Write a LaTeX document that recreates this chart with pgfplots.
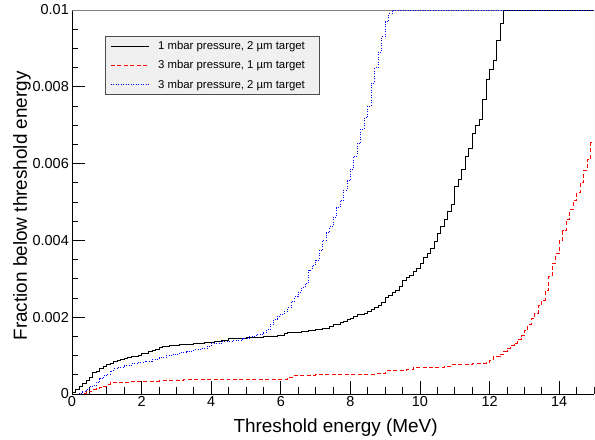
\documentclass[border=0pt]{standalone}
\usepackage{fontspec}
\setmainfont{Liberation Sans}
\usepackage{pgfplots}
\pgfplotsset{compat=1.18}

% step histograms, bins of ~0.1 MeV (value = height from that energy on)
\pgfplotstableread{
E f
0.0 0.00005
0.1 0.00012
0.2 0.00020
0.3 0.00028
0.4 0.00036
0.5 0.00044
0.6 0.00055
0.7 0.00060
0.8 0.00066
0.9 0.00071
1.0 0.00076
1.1 0.00080
1.2 0.00085
1.3 0.00088
1.4 0.00090
1.5 0.00093
1.6 0.00095
1.7 0.00097
1.8 0.00099
1.9 0.00101
2.0 0.00105
2.1 0.00107
2.2 0.00110
2.3 0.00113
2.4 0.00117
2.5 0.00121
2.6 0.00125
2.8 0.00127
3.1 0.00129
3.5 0.00133
3.8 0.00135
4.1 0.00138
4.3 0.00140
4.5 0.00144
4.6 0.00146
5.0 0.00148
5.5 0.00150
5.9 0.00153
6.1 0.00159
6.2 0.00161
6.6 0.00163
6.8 0.00166
7.0 0.00169
7.2 0.00172
7.4 0.00176
7.5 0.00180
7.7 0.00186
7.8 0.00190
7.9 0.00194
8.0 0.00198
8.1 0.00203
8.2 0.00206
8.4 0.00210
8.5 0.00216
8.6 0.00221
8.7 0.00226
8.8 0.00232
8.9 0.00238
9.0 0.00252
9.1 0.00258
9.2 0.00264
9.3 0.00271
9.4 0.00280
9.5 0.00295
9.6 0.00303
9.7 0.00310
9.8 0.00319
9.9 0.00328
10.0 0.00340
10.1 0.00355
10.2 0.00366
10.3 0.00380
10.4 0.00397
10.5 0.00417
10.6 0.00436
10.7 0.00455
10.8 0.00475
10.9 0.00495
11.0 0.00540
11.1 0.00560
11.2 0.00585
11.3 0.00620
11.4 0.00640
11.5 0.00679
11.6 0.00700
11.7 0.00714
11.8 0.00766
11.9 0.00818
12.0 0.00845
12.1 0.00870
12.2 0.00922
12.3 0.00965
12.4 0.01000
15.0 0.01000
}\onembartwo

\pgfplotstableread{
E f
0.0 0.00000
0.3 0.00002
0.4 0.00006
0.5 0.00008
0.6 0.00012
0.7 0.00015
0.8 0.00018
0.9 0.00021
1.0 0.00025
1.1 0.00029
1.3 0.00031
1.7 0.00033
2.0 0.00034
2.5 0.00035
3.2 0.00037
4.5 0.00038
5.6 0.00039
6.2 0.00044
6.4 0.00049
7.0 0.00051
8.7 0.00053
9.0 0.00061
9.6 0.00063
9.8 0.00068
10.4 0.00070
10.7 0.00073
10.9 0.00077
11.5 0.00080
11.9 0.00083
12.0 0.00088
12.1 0.00097
12.3 0.00103
12.4 0.00112
12.5 0.00119
12.6 0.00126
12.7 0.00133
12.8 0.00142
12.9 0.00152
13.0 0.00165
13.1 0.00180
13.2 0.00196
13.3 0.00210
13.4 0.00230
13.5 0.00245
13.6 0.00270
13.7 0.00305
13.8 0.00340
13.9 0.00365
14.0 0.00401
14.1 0.00425
14.2 0.00455
14.3 0.00480
14.4 0.00505
14.5 0.00525
14.6 0.00550
14.7 0.00583
14.8 0.00610
14.9 0.00654
15.0 0.00654
}\threembarone

\pgfplotstableread{
E f
0.0 0.00000
0.2 0.00002
0.3 0.00006
0.4 0.00012
0.5 0.00019
0.6 0.00022
0.7 0.00030
0.8 0.00040
0.9 0.00048
1.0 0.00052
1.1 0.00060
1.2 0.00066
1.3 0.00070
1.5 0.00074
1.7 0.00079
1.9 0.00083
2.1 0.00086
2.3 0.00090
2.5 0.00094
2.7 0.00100
2.9 0.00103
3.1 0.00108
3.3 0.00112
3.5 0.00115
3.7 0.00118
3.9 0.00125
4.0 0.00132
4.3 0.00137
4.6 0.00140
4.9 0.00144
5.1 0.00150
5.3 0.00156
5.5 0.00160
5.6 0.00167
5.7 0.00180
5.8 0.00195
5.9 0.00202
6.0 0.00208
6.1 0.00216
6.2 0.00225
6.3 0.00240
6.4 0.00253
6.5 0.00265
6.6 0.00277
6.7 0.00288
6.8 0.00323
6.9 0.00335
7.0 0.00349
7.1 0.00375
7.2 0.00401
7.3 0.00420
7.4 0.00436
7.5 0.00460
7.6 0.00485
7.7 0.00505
7.8 0.00530
7.9 0.00555
8.0 0.00585
8.1 0.00620
8.2 0.00653
8.3 0.00690
8.4 0.00720
8.5 0.00750
8.6 0.00810
8.7 0.00850
8.8 0.00890
8.9 0.00930
9.0 0.00970
9.1 0.00990
9.2 0.01000
15.0 0.01000
}\threembartwo

\begin{document}
\begin{tikzpicture}
\begin{axis}[
  scale only axis,
  width=522bp, height=384bp,
  xmin=0, xmax=15,
  ymin=0, ymax=0.01,
  scaled y ticks=false,
  axis x line*=bottom,
  axis y line*=left,
  axis line style={-, line width=0.8bp},
  tick align=inside,
  xtick={0,2,4,6,8,10,12,14},
  xticklabels={0,2,4,6,8,10,12,14},
  minor xtick={0.5,1,...,15},
  ytick={0,0.002,0.004,0.006,0.008,0.01},
  yticklabels={0,0.002,0.004,0.006,0.008,0.01},
  minor ytick={0.0005,0.001,...,0.0095},
  major tick length=13bp,
  minor tick length=6.5bp,
  every tick/.style={black, line width=0.7bp},
  ticklabel style={font=\fontsize{14.5}{16}\selectfont},
  yticklabel style={inner sep=1bp, xshift=-2bp},
  xticklabel style={inner sep=1bp, yshift=-1bp},
  xlabel={Threshold energy (MeV)},
  ylabel={Fraction below threshold energy},
  label style={font=\fontsize{19}{22}\selectfont},
  xlabel style={at={(axis description cs:0.505,-0.088)}, anchor=center},
  ylabel style={at={(axis description cs:-0.096,0.49)}, anchor=center},
  legend style={
    at={(0.063,0.932)}, anchor=north west,
    draw=black!70, line width=0.8bp, fill=black!6,
    font=\fontsize{11.4}{13}\selectfont,
    inner xsep=5bp, inner ysep=3.5bp,
    row sep=6.5bp,
    nodes={inner sep=1.5bp},
  },
  legend cell align=left,
  legend image code/.code={\draw[#1] (0bp,0bp) -- (38bp,0bp); \path[draw=none] (46bp,0bp) circle (0pt);},
]
\coordinate (o) at (rel axis cs:0,0);
\draw[black!50, line width=0.8bp] (rel axis cs:0,1) -- (rel axis cs:1,1);
\draw[black!15, line width=0.8bp] (rel axis cs:1,1) -- (rel axis cs:1,0);
\addplot[const plot, black, line width=0.8bp] table[x=E, y=f] {\onembartwo};
\addplot[const plot, red, line width=0.8bp, dash pattern=on 4bp off 2.5bp] table[x=E, y=f] {\threembarone};
\addplot[const plot, blue, line width=0.8bp, dash pattern=on 0.9bp off 1.6bp] table[x=E, y=f] {\threembartwo};
\legend{{1 mbar pressure, 2 µm target\hspace*{8bp}}, {3 mbar pressure, 1 µm target\hspace*{8bp}}, {3 mbar pressure, 2 µm target\hspace*{8bp}}}
\end{axis}
\path (o) ++(-72bp,-45bp) rectangle ++(595bp,439bp);
\end{tikzpicture}
\end{document}
